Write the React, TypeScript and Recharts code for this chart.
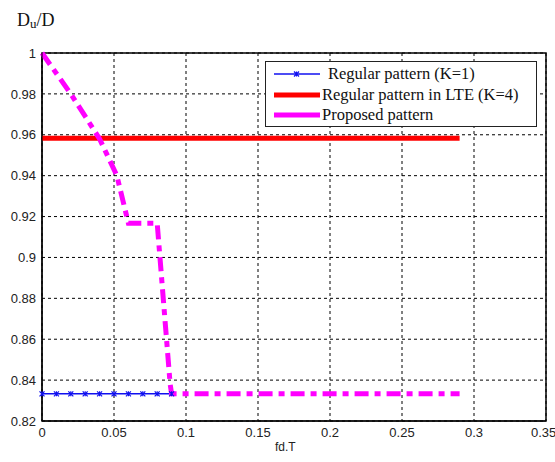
import React from 'react';
import { LineChart, Line, XAxis, YAxis, CartesianGrid, ReferenceArea } from 'recharts';

// fd.T sample points and D_u/D values
const regularX = [0, 0.01, 0.02, 0.03, 0.04, 0.05, 0.06, 0.07, 0.08, 0.09];
const regularY = [0.8333, 0.8333, 0.8333, 0.8333, 0.8333, 0.8333, 0.8333, 0.8333, 0.8333, 0.8333];

const lteX = [0, 0.29];
const lteY = [0.9583, 0.9583];

const proposedX = [0, 0.02, 0.04, 0.052, 0.06, 0.08, 0.089, 0.09, 0.29];
const proposedY = [1, 0.98, 0.958, 0.94, 0.9167, 0.9167, 0.838, 0.8333, 0.8333];

const xTicks = [0, 0.05, 0.1, 0.15, 0.2, 0.25, 0.3, 0.35];
const yTicks = [0.82, 0.84, 0.86, 0.88, 0.9, 0.92, 0.94, 0.96, 0.98, 1];

const toPoints = (xs: number[], ys: number[]) => xs.map((x, i) => ({ x, y: ys[i] }));

const regularData = toPoints(regularX, regularY);
const lteData = toPoints(lteX, lteY);
const proposedData = toPoints(proposedX, proposedY);

const BLUE = '#1010f0';
const RED = '#ff0000';
const MAGENTA = '#ff00ff';

const CrossDot = (props: any) => {
  const { cx, cy } = props;
  if (cx == null || cy == null) return null;
  const r = 2.5;
  return (
    <g stroke={BLUE} strokeWidth={1.2}>
      <line x1={cx - r} y1={cy - r} x2={cx + r} y2={cy + r} />
      <line x1={cx - r} y1={cy + r} x2={cx + r} y2={cy - r} />
      <line x1={cx} y1={cy - r} x2={cx} y2={cy + r} />
    </g>
  );
};

const tickStyle = { fontFamily: 'Liberation Sans, Arial, sans-serif', fontSize: 13, fill: '#222' };
const serif = '"Liberation Serif", "Times New Roman", serif';

const LegendRow = ({ color, width, marker, label, top, textLeft }: any) => (
  <div style={{ position: 'absolute', left: 0, top, height: 20, width: '100%' }}>
    <svg width={50} height={20} style={{ position: 'absolute', left: 6, top: 0 }}>
      <line x1={2} y1={10} x2={48} y2={10} stroke={color} strokeWidth={width} />
      {marker && (
        <g stroke={color} strokeWidth={1.2}>
          <line x1={22} y1={7.5} x2={27} y2={12.5} />
          <line x1={22} y1={12.5} x2={27} y2={7.5} />
          <line x1={24.5} y1={7.5} x2={24.5} y2={12.5} />
        </g>
      )}
    </svg>
    <span
      style={{
        position: 'absolute',
        left: textLeft,
        top: 0,
        lineHeight: '20px',
        fontFamily: serif,
        fontSize: 16.5,
        color: '#111',
        whiteSpace: 'nowrap',
      }}
    >
      {label}
    </span>
  </div>
);

export default function App() {
  return (
    <div style={{ position: 'absolute', left: 0, top: 0, width: 555, height: 462, background: '#fff' }}>
      <LineChart width={555} height={462} margin={{ top: 53, right: 9, bottom: 0, left: 0 }}>
        <CartesianGrid stroke="#000" strokeDasharray="3 3" strokeWidth={1} />
        <XAxis
          dataKey="x"
          type="number"
          domain={[0, 0.35]}
          ticks={xTicks}
          allowDuplicatedCategory={false}
          tickFormatter={(v: number) => String(v)}
          tick={tickStyle}
          tickSize={0}
          tickMargin={7}
          height={41}
          axisLine={{ stroke: '#000' }}
        />
        <YAxis
          type="number"
          domain={[0.82, 1]}
          ticks={yTicks}
          tickFormatter={(v: number) => String(v)}
          tick={tickStyle}
          tickSize={0}
          tickMargin={6}
          width={42}
          axisLine={{ stroke: '#000' }}
        />
        <ReferenceArea x1={0} x2={0.35} y1={0.82} y2={1} fill="none" stroke="#000" strokeWidth={1.5} ifOverflow="visible" />
        <Line
          data={regularData}
          dataKey="y"
          stroke={BLUE}
          strokeWidth={1.5}
          dot={<CrossDot />}
          isAnimationActive={false}
        />
        <Line
          data={lteData}
          dataKey="y"
          stroke={RED}
          strokeWidth={5}
          dot={false}
          isAnimationActive={false}
        />
        <Line
          data={proposedData}
          dataKey="y"
          stroke={MAGENTA}
          strokeWidth={5}
          strokeDasharray="14 6 6 6"
          dot={false}
          isAnimationActive={false}
        />
      </LineChart>

      <div style={{ position: 'absolute', left: 17, top: 10, fontFamily: serif, fontSize: 18, color: '#111' }}>
        D<span style={{ fontSize: 13, position: 'relative', top: 2 }}>u</span>/D
      </div>
      <div
        style={{
          position: 'absolute',
          left: 275,
          top: 440,
          fontFamily: 'Liberation Sans, Arial, sans-serif',
          fontSize: 12,
          color: '#222',
        }}
      >
        fd.T
      </div>

      <div
        style={{
          position: 'absolute',
          left: 265,
          top: 61,
          width: 270,
          height: 64,
          border: '1px solid #222',
          background: '#fff',
        }}
      >
        <LegendRow color={BLUE} width={1.5} marker label="Regular pattern (K=1)" top={2} textLeft={62} />
        <LegendRow color={RED} width={5} label="Regular pattern in LTE (K=4)" top={23} textLeft={56} />
        <LegendRow color={MAGENTA} width={5} label="Proposed pattern" top={43} textLeft={56} />
      </div>
    </div>
  );
}
